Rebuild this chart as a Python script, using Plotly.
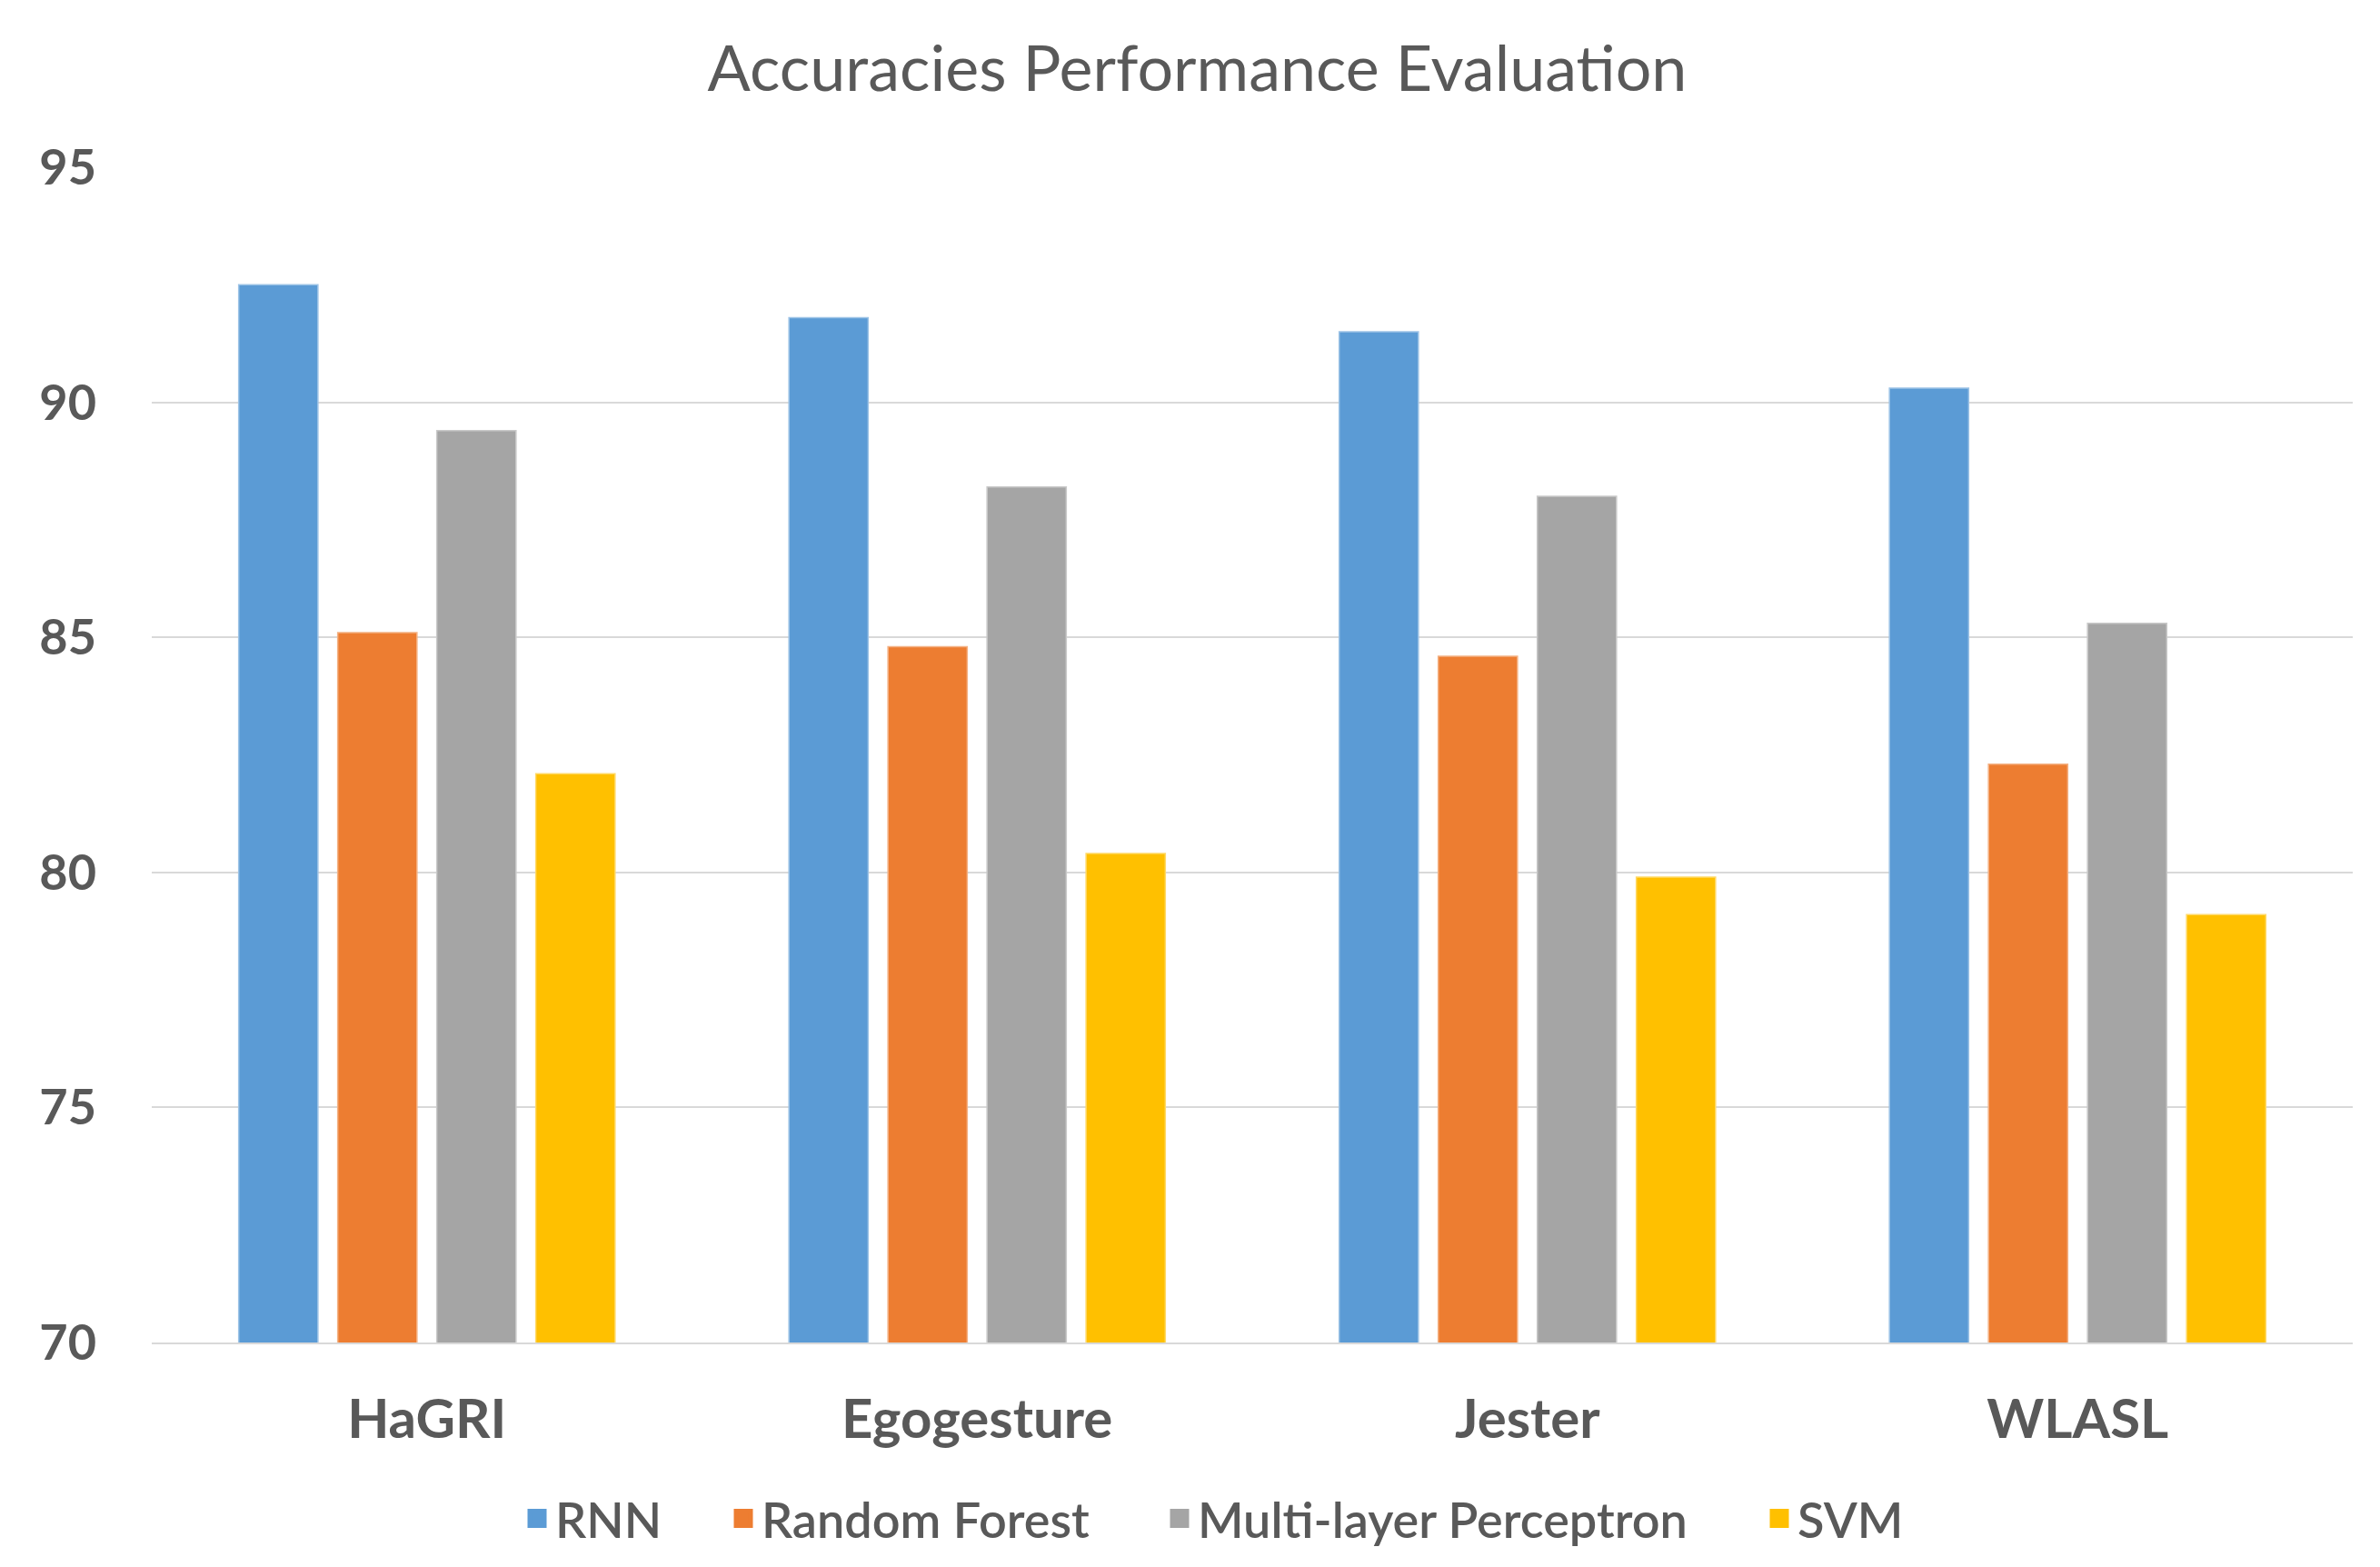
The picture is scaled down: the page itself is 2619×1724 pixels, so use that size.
import plotly.graph_objects as go

categories = ["HaGRI", "Egogesture", "Jester", "WLASL"]
series_names = ["RNN", "Random Forest", "Multi-layer Perceptron", "SVM"]
rnn = [92.5, 91.8, 91.5, 90.3]
random_forest = [85.1, 84.8, 84.6, 82.3]
mlp = [89.4, 88.2, 88.0, 85.3]
svm = [82.1, 80.4, 79.9, 79.1]
y_ticks = [70, 75, 80, 85, 90, 95]

colors = ["#5B9BD5", "#ED7D31", "#A5A5A5", "#FFC000"]
edges = ["#9DC3E6", "#F4B183", "#C9C9C9", "#FFD966"]
values = [rnn, random_forest, mlp, svm]

# legend entry left positions (px in the 2619-wide figure)
legend_lefts = [563, 790, 1270, 1930]

font_family = "Lato, 'Open Sans', sans-serif"
W, H = 2619, 1724

fig = go.Figure()
for i, (name, vals, c, e) in enumerate(zip(series_names, values, colors, edges)):
    lg = "legend" if i == 0 else f"legend{i + 1}"
    fig.add_trace(go.Bar(
        x=categories, y=vals, name=name, showlegend=False,
        marker=dict(color=c, line=dict(color=e, width=1.5)),
    ))
    # legend-only entry with a larger square symbol
    fig.add_trace(go.Scatter(
        x=[None], y=[None], mode="markers", name=name, legend=lg,
        marker=dict(symbol="square", size=16, color=c, line=dict(color=c, width=5)),
    ))

legend_common = dict(orientation="h", xref="container", xanchor="left",
                     y=1 - 1663 / H, yref="container", yanchor="middle",
                     font=dict(size=54, color="#595959", family=font_family, weight=600),
                     itemwidth=30, bgcolor="rgba(0,0,0,0)")

layout_legends = {}
for i, xl in enumerate(legend_lefts):
    key = "legend" if i == 0 else f"legend{i + 1}"
    layout_legends[key] = dict(legend_common, x=xl / W)

fig.update_layout(
    width=W, height=H,
    paper_bgcolor="white", plot_bgcolor="white",
    barmode="group", bargap=0.28, bargroupgap=0.2,
    margin=dict(l=159, r=38, t=176, b=255),
    font=dict(family=font_family, color="#595959"),
    title=dict(text="Accuracies Performance Evaluation",
               x=0.5, xref="container", xanchor="center",
               y=1 - 67 / H, yref="container", yanchor="middle",
               font=dict(size=70, color="#595959", family=font_family)),
    xaxis=dict(showgrid=False, showline=True, linecolor="#D9D9D9", linewidth=2,
               tickfont=dict(size=60, color="#595959", family=font_family, weight="bold"),
               ticklabelstandoff=31, ticks=""),
    yaxis=dict(range=[70, 95], tickvals=y_ticks, showgrid=True, gridcolor="#D9D9D9", gridwidth=2,
               zeroline=False, showline=False,
               tickfont=dict(size=54, color="#595959", family=font_family, weight="bold"),
               ticklabelstandoff=60, ticks=""),
    **layout_legends,
)

fig.write_html("out.html")
